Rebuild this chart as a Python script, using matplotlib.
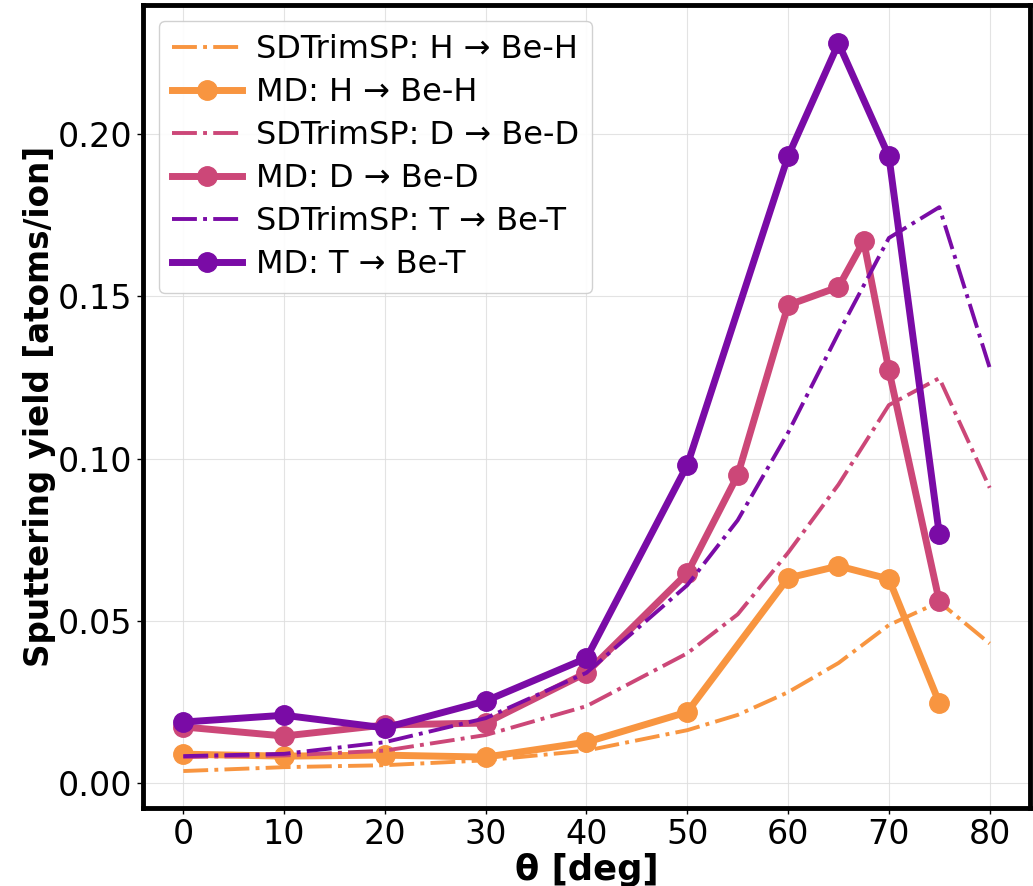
import matplotlib

matplotlib.use("Agg")
import matplotlib.pyplot as plt

# SDTrimSP angles and yields
sd_angles = [0, 10, 20, 30, 40, 50, 55, 60, 65, 70, 75, 80]
sd_h = [0.0037, 0.0049, 0.0055, 0.0070, 0.0100, 0.0163, 0.0210, 0.0280, 0.0370, 0.0487, 0.0558, 0.0430]
sd_d = [0.0080, 0.0085, 0.0100, 0.0148, 0.0237, 0.0400, 0.0520, 0.0710, 0.0920, 0.1165, 0.1248, 0.0910]
sd_t = [0.0083, 0.0090, 0.0126, 0.0200, 0.0340, 0.0610, 0.0810, 0.1080, 0.1387, 0.1680, 0.1775, 0.1280]

# MD angles and yields
md_h_angles = [0, 10, 20, 30, 40, 50, 60, 65, 70, 75]
md_h = [0.0089, 0.0083, 0.0086, 0.0080, 0.0126, 0.0219, 0.0632, 0.0669, 0.0629, 0.0247]
md_d_angles = [0, 10, 20, 30, 40, 50, 55, 60, 65, 67.5, 70, 75]
md_d = [0.0173, 0.0145, 0.0179, 0.0185, 0.0340, 0.0647, 0.0949, 0.1473, 0.1529, 0.1670, 0.1273, 0.0560]
md_t_angles = [0, 10, 20, 30, 40, 50, 60, 65, 70, 75]
md_t = [0.0188, 0.0209, 0.0170, 0.0253, 0.0385, 0.0980, 0.1932, 0.2280, 0.1932, 0.0767]

c_h = "#f89540"
c_d = "#cc4778"
c_t = "#7a0ba6"

fig = plt.figure(figsize=(10.33, 8.86), dpi=100)
ax = fig.add_axes([0.1384, 0.088, 0.8587, 0.9063])

ax.plot(sd_angles, sd_h, "-.", color=c_h, lw=2.8, label="SDTrimSP: H → Be-H")
ax.plot(md_h_angles, md_h, "-o", color=c_h, lw=5, ms=14, label="MD: H → Be-H")
ax.plot(sd_angles, sd_d, "-.", color=c_d, lw=2.8, label="SDTrimSP: D → Be-D")
ax.plot(md_d_angles, md_d, "-o", color=c_d, lw=5, ms=14, label="MD: D → Be-D")
ax.plot(sd_angles, sd_t, "-.", color=c_t, lw=2.8, label="SDTrimSP: T → Be-T")
ax.plot(md_t_angles, md_t, "-o", color=c_t, lw=5, ms=14, label="MD: T → Be-T")

ax.set_xlim(-4, 84)
ax.set_ylim(-0.0077, 0.2398)
ax.set_xticks(range(0, 81, 10))
ax.set_yticks([0.0, 0.05, 0.10, 0.15, 0.20])
ax.set_yticklabels(["0.00", "0.05", "0.10", "0.15", "0.20"])
ax.tick_params(labelsize=24, width=1, length=4)

ax.set_xlabel("θ [deg]", fontsize=25.5, fontweight="bold", labelpad=1)
ax.set_ylabel("Sputtering yield [atoms/ion]", fontsize=23.5, fontweight="bold", labelpad=1.5)

ax.grid(True, color="#dddddd", lw=0.8, alpha=0.8)
for s in ax.spines.values():
    s.set_linewidth(3.5)
    s.set_color("black")

ax.legend(loc="upper left", fontsize=23, handlelength=2.2, labelspacing=0.38,
          handletextpad=0.45, framealpha=0.9, borderaxespad=0.5)

fig.savefig("out.png", dpi=100)
